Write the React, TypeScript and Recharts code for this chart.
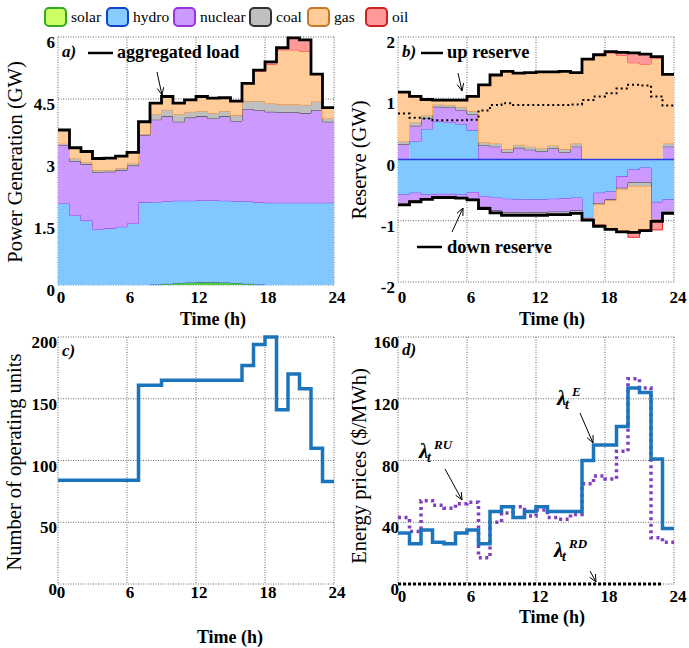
import React from 'react';
import { ComposedChart, Area, Line, XAxis, YAxis, CartesianGrid, ReferenceLine } from 'recharts';

const FONT = '"Liberation Serif", "Times New Roman", Times, serif';

type V = number | null;
const N = null;

// ---------- ticks ----------
const hourTicks = [0, 6, 12, 18, 24];
const genTicks = [0, 1.5, 3, 4.5, 6];
const reserveTicks = [-2, -1, 0, 1, 2];
const unitTicks = [0, 50, 100, 150, 200];
const priceTicks = [0, 40, 80, 120, 160];

// ---------- (a) power generation (GW), hours 0..23 ----------
const solarGen: V[] = [N, N, N, N, N, N, N, N, 0.01, 0.03, 0.05, 0.06, 0.07, 0.07, 0.06, 0.05, 0.03, 0.01, 0, N, N, N, N, N];
const hydroGen: V[] = [1.98, 1.69, 1.56, 1.35, 1.37, 1.41, 1.49, 2.0, 2.0, 1.99, 1.99, 1.98, 1.98, 1.98, 1.98, 1.98, 1.99, 1.99, 1.99, 1.99, 1.99, 1.99, 1.99, 1.99];
const nuclearGen: V[] = [1.41, 1.31, 1.36, 1.38, 1.37, 1.37, 1.4, 1.63, 1.99, 2.06, 1.91, 2.01, 2.03, 1.98, 2.04, 1.94, 2.24, 2.23, 2.2, 2.19, 2.19, 2.17, 2.24, 1.96];
const coalGen: V[] = [0.03, 0.06, 0.05, 0.05, 0.04, 0.05, 0.05, 0.02, 0.13, 0.16, 0.18, 0.14, 0.13, 0.13, 0.13, 0.14, 0.19, 0.22, 0.21, 0.19, 0.19, 0.2, 0.21, 0.08];
const gasGen: V[] = [0.33, 0.26, 0.26, 0.28, 0.29, 0.29, 0.27, 0.3, 0.27, 0.32, 0.27, 0.29, 0.35, 0.36, 0.32, 0.34, 0.43, 0.72, 0.94, 1.32, 1.32, 1.3, 0.66, 0.26];
const oilGen: V[] = [N, N, N, N, N, N, N, N, N, N, N, N, N, N, N, N, N, 0.03, 0.06, 0.05, 0.29, 0.27, 0, N];
const aggregatedLoad: V[] = [3.75, 3.32, 3.23, 3.06, 3.07, 3.12, 3.21, 3.95, 4.4, 4.56, 4.4, 4.48, 4.56, 4.52, 4.53, 4.45, 4.88, 5.2, 5.4, 5.74, 5.98, 5.93, 5.1, 4.29];

// ---------- (b) reserve (GW) ----------
const hydroUp: V[] = [N, 0.3, 0.5, 0.62, 0.61, 0.58, 0.48, 0, N, N, N, N, N, N, N, N, N, N, N, N, N, N, N, N];
const nuclearUp: V[] = [0.25, 0.25, 0.17, 0.24, 0.24, 0.23, 0.26, 0.23, 0.21, 0.12, 0.19, 0.16, 0.13, 0.18, 0.12, 0.21, 0, N, N, N, N, N, N, 0.21];
const coalUp: V[] = [0.05, 0.06, 0.05, 0.04, 0.04, 0.05, 0.05, 0.05, 0.05, 0.05, 0.05, 0.05, 0.05, 0.05, 0.05, 0.05, 0, N, N, N, N, N, N, 0.05];
const gasUp: V[] = [0.8, 0.42, 0.26, 0.07, 0.08, 0.11, 0.24, 0.94, 1.12, 1.27, 1.17, 1.21, 1.25, 1.2, 1.27, 1.16, 1.64, 1.71, 1.74, 1.7, 1.58, 1.56, 1.65, 1.13];
const oilUp: V[] = [N, N, N, N, N, N, N, N, N, N, N, N, N, N, N, N, N, N, 0.02, 0.05, 0.16, 0.16, 0.03, 0];
const upReserve: V[] = [1.1, 1.03, 0.98, 0.97, 0.97, 0.97, 1.03, 1.22, 1.38, 1.44, 1.41, 1.42, 1.43, 1.43, 1.44, 1.42, 1.64, 1.71, 1.76, 1.75, 1.74, 1.72, 1.68, 1.39];
const dottedReserve: V[] = [0.75, 0.68, 0.67, 0.64, 0.64, 0.64, 0.65, 0.8, 0.89, 0.92, 0.89, 0.89, 0.89, 0.89, 0.89, 0.9, 0.97, 1.03, 1.08, 1.16, 1.22, 1.21, 1.03, 0.88];
const hydroDown: V[] = [-0.58, -0.55, -0.58, -0.57, -0.57, -0.58, -0.54, -0.61, -0.63, -0.65, -0.66, -0.66, -0.66, -0.65, -0.64, -0.63, -0.96, -0.55, -0.53, -0.28, -0.17, -0.14, -0.7, -0.66];
const nuclearDown: V[] = [-0.14, -0.12, -0.06, -0.04, -0.04, -0.04, -0.11, -0.17, -0.21, -0.22, -0.21, -0.21, -0.21, -0.21, -0.22, -0.21, -0.01, -0.17, -0.13, -0.19, -0.21, -0.24, -0.29, -0.19];
const coalDown: V[] = [-0.01, -0.01, -0.01, -0.01, -0.01, -0.01, -0.01, -0.02, -0.03, -0.04, -0.04, -0.04, -0.04, -0.04, -0.04, -0.03, 0, -0.02, -0.02, -0.02, -0.06, -0.06, 0, -0.03];
const gasDown: V[] = [N, N, N, N, N, N, N, N, N, N, N, N, N, N, N, N, -0.02, -0.33, -0.45, -0.68, -0.74, -0.71, -0.02, 0];
const oilDown: V[] = [N, N, N, N, N, N, N, N, N, N, N, N, N, N, N, N, N, N, N, -0.02, -0.09, -0.01, -0.14, 0];
const downReserve: V[] = [-0.74, -0.69, -0.65, -0.62, -0.62, -0.63, -0.66, -0.8, -0.87, -0.91, -0.91, -0.91, -0.91, -0.9, -0.9, -0.88, -0.99, -1.09, -1.14, -1.18, -1.19, -1.16, -1.01, -0.88];

// ---------- (c) operating units ----------
const operatingUnits: V[] = [84, 84, 84, 84, 84, 84, 84, 161, 161, 165, 165, 165, 165, 165, 165, 165, 177, 194, 200, 141, 170, 158, 110, 83];

// ---------- (d) prices ($/MWh) ----------
const priceE: V[] = [33, 26, 35, 27, 26, 33, 35, 26, 47, 50, 43, 47, 50, 47, 47, 47, 80, 90, 90, 102, 127, 124, 81, 36];
const priceRU: V[] = [43, 34, 54, 51, 49, 52, 53, 17, 40, 46, 50, 44, 48, 43, 42, 45, 65, 70, 68, 86, 133, 127, 30, 27];
const priceRD: V[] = [0, 0, 0, 0, 0, 0, 0, 0, 0, 0, 0, 0, 0, 0, 0, 0, 0, 0, 0, 0, 0, 0, 0, 0];

// ---------- legend ----------
const legendNames = ['solar', 'hydro', 'nuclear', 'coal', 'gas', 'oil'];
const legendFill = ['#ccff66', '#88ccff', '#cc99ff', '#c0c0c0', '#ffcc99', '#ff9999'];
const legendStroke = ['#33aa22', '#1144cc', '#9933dd', '#333333', '#c87828', '#cc2222'];
const legendSwatchX = [45, 107, 174, 250, 308, 366];

const FILL = { solar: '#55cc33', hydro: '#80c8ff', nuclear: '#cc99ff', coal: '#bfbfbf', gas: '#ffcc99', oil: '#ff9999' };
const EDGE = { solar: '#2a55dd', hydro: '#8a3be8', nuclear: '#333333', coal: '#f08a24', gas: '#ee2a2a', oil: '#ee2a2a' };

function buildRows(series: Record<string, V[]>) {
  const rows: Record<string, V>[] = [];
  for (let t = 0; t <= 24; t++) {
    const row: Record<string, V> = { t };
    for (const key of Object.keys(series)) {
      const arr = series[key];
      if (t < 24) row[key] = arr[t];
      else row[key] = arr[23] === 0 ? null : arr[23];
    }
    rows.push(row);
  }
  return rows;
}

const genRows = buildRows({ solar: solarGen, hydro: hydroGen, nuclear: nuclearGen, coal: coalGen, gas: gasGen, oil: oilGen, load: aggregatedLoad });
const resRows = buildRows({
  hydroUp, nuclearUp, coalUp, gasUp, oilUp, upReserve, dottedReserve,
  hydroDown, nuclearDown, coalDown, gasDown, oilDown, downReserve,
});
const unitRows = buildRows({ units: operatingUnits });
const priceRows = buildRows({ e: priceE, ru: priceRU, rd: priceRD });

const W = 689;
const H = 648;

const xTick = (dx: number, dy: number) => (p: any) => (
  <text x={p.x + dx} y={p.y + dy} textAnchor="middle" fontFamily={FONT} fontWeight="bold" fontSize={17} fill="#000">
    {String(p.payload.value)}
  </text>
);
const yTick = (dx: number) => (p: any) => (
  <text x={p.x + dx} y={p.y + 11} textAnchor="end" fontFamily={FONT} fontWeight="bold" fontSize={17} fill="#000">
    {String(p.payload.value)}
  </text>
);

function Panel(props: {
  data: any[];
  plot: { l: number; t: number; r: number; b: number };
  yDomain: [number, number];
  yTicks: number[];
  xdx: number;
  xdy: number;
  ydx: number;
  children: React.ReactNode;
}) {
  const { data, plot, yDomain, yTicks, xdx, xdy, ydx, children } = props;
  const YW = 40;
  const XH = 30;
  return (
    <div style={{ position: 'absolute', left: 0, top: 0 }}>
      <ComposedChart
        width={W}
        height={H}
        data={data}
        margin={{ top: plot.t, left: plot.l - YW, right: W - plot.r, bottom: H - plot.b - XH }}
      >
        <CartesianGrid stroke="#666" strokeDasharray="1 1.5" />
        <XAxis
          type="number"
          dataKey="t"
          domain={[0, 24]}
          ticks={hourTicks}
          interval={0}
          axisLine={false}
          tickLine={false}
          tickSize={0}
          tickMargin={0}
          height={XH}
          tick={xTick(xdx, xdy)}
        />
        <YAxis
          type="number"
          domain={yDomain}
          ticks={yTicks}
          interval={0}
          axisLine={false}
          tickLine={false}
          tickSize={0}
          tickMargin={0}
          width={YW}
          tick={yTick(ydx)}
        />
        {children}
      </ComposedChart>
    </div>
  );
}

function Arrow({ x1, y1, x2, y2 }: { x1: number; y1: number; x2: number; y2: number }) {
  const a = Math.atan2(y2 - y1, x2 - x1);
  const L = 8;
  const s = 0.42;
  const p1 = `${x2 - L * Math.cos(a - s)},${y2 - L * Math.sin(a - s)}`;
  const p2 = `${x2 - L * Math.cos(a + s)},${y2 - L * Math.sin(a + s)}`;
  return (
    <g stroke="#000" strokeWidth={1} fill="none">
      <line x1={x1} y1={y1} x2={x2} y2={y2} />
      <polyline points={`${p1} ${x2},${y2} ${p2}`} />
    </g>
  );
}

function Lambda({ x, y, sup }: { x: number; y: number; sup: string }) {
  return (
    <g fontFamily={FONT} fontWeight="bold" fontStyle="italic" fill="#000">
      <text x={x} y={y} fontSize={21}>λ</text>
      <text x={x + 8} y={y + 4} fontSize={14}>t</text>
      <text x={x + 15} y={y - 9} fontSize={13}>{sup}</text>
    </g>
  );
}

function area(key: string, stackId: string, kind: keyof typeof FILL) {
  return (
    <Area
      key={key}
      type="stepAfter"
      dataKey={key}
      stackId={stackId}
      fill={FILL[kind]}
      fillOpacity={1}
      stroke={EDGE[kind]}
      strokeWidth={1}
      isAnimationActive={false}
      dot={false}
      activeDot={false}
    />
  );
}

export default function App() {
  return (
    <div style={{ position: 'absolute', left: 0, top: 0, width: W, height: H, background: '#fff', overflow: 'hidden' }}>
      {/* (a) */}
      <Panel data={genRows} plot={{ l: 58, t: 37, r: 334, b: 285 }} yDomain={[0, 6]} yTicks={genTicks} xdx={3} xdy={18} ydx={-3}>
        {area('solar', 'g', 'solar')}
        {area('hydro', 'g', 'hydro')}
        {area('nuclear', 'g', 'nuclear')}
        {area('coal', 'g', 'coal')}
        {area('gas', 'g', 'gas')}
        {area('oil', 'g', 'oil')}
        <Line type="stepAfter" dataKey="load" stroke="#000" strokeWidth={2.8} dot={false} activeDot={false} isAnimationActive={false} />
      </Panel>

      {/* (b) */}
      <Panel data={resRows} plot={{ l: 398, t: 37, r: 674, b: 282 }} yDomain={[-2, 2]} yTicks={reserveTicks} xdx={4} xdy={21} ydx={-3}>
        {area('hydroUp', 'up', 'hydro')}
        {area('nuclearUp', 'up', 'nuclear')}
        {area('coalUp', 'up', 'coal')}
        {area('gasUp', 'up', 'gas')}
        {area('oilUp', 'up', 'oil')}
        {area('hydroDown', 'dn', 'hydro')}
        {area('nuclearDown', 'dn', 'nuclear')}
        {area('coalDown', 'dn', 'coal')}
        {area('gasDown', 'dn', 'gas')}
        {area('oilDown', 'dn', 'oil')}
        <ReferenceLine y={0} stroke="#2a3ee0" strokeWidth={1.5} />
        <Line type="stepAfter" dataKey="dottedReserve" stroke="#000" strokeWidth={2} strokeDasharray="2 3" dot={false} activeDot={false} isAnimationActive={false} />
        <Line type="stepAfter" dataKey="upReserve" stroke="#000" strokeWidth={2.8} dot={false} activeDot={false} isAnimationActive={false} />
        <Line type="stepAfter" dataKey="downReserve" stroke="#000" strokeWidth={2.8} dot={false} activeDot={false} isAnimationActive={false} />
      </Panel>

      {/* (c) */}
      <Panel data={unitRows} plot={{ l: 58, t: 337, r: 334, b: 584 }} yDomain={[0, 200]} yTicks={unitTicks} xdx={3} xdy={14} ydx={-1}>
        <Line type="stepAfter" dataKey="units" stroke="#1b75bc" strokeWidth={3.5} dot={false} activeDot={false} isAnimationActive={false} />
      </Panel>

      {/* (d) */}
      <Panel data={priceRows} plot={{ l: 398, t: 337, r: 674, b: 584 }} yDomain={[0, 160]} yTicks={priceTicks} xdx={4} xdy={18} ydx={1}>
        <Line type="stepAfter" dataKey="ru" stroke="#7f3fbf" strokeWidth={3.5} strokeDasharray="3 3.5" dot={false} activeDot={false} isAnimationActive={false} />
        <Line type="stepAfter" dataKey="e" stroke="#1b75bc" strokeWidth={3.5} dot={false} activeDot={false} isAnimationActive={false} />
        <Line type="stepAfter" dataKey="rd" stroke="#000" strokeWidth={3} strokeDasharray="3 2" dot={false} activeDot={false} isAnimationActive={false} />
      </Panel>

      {/* annotations overlay */}
      <svg width={W} height={H} style={{ position: 'absolute', left: 0, top: 0, pointerEvents: 'none' }}>
        {/* legend */}
        {legendNames.map((name, i) => (
          <g key={name}>
            <rect x={legendSwatchX[i]} y={8} width={21} height={18} rx={4} ry={4} fill={legendFill[i]} stroke={legendStroke[i]} strokeWidth={2} />
            <text x={legendSwatchX[i] + 26} y={22} fontFamily={FONT} fontSize={15.5} fill="#000">{name}</text>
          </g>
        ))}

        {/* panel labels */}
        <g fontFamily={FONT} fontWeight="bold" fontStyle="italic" fontSize={17} fill="#000">
          <text x={62} y={57}>a)</text>
          <text x={402} y={57}>b)</text>
          <text x={62} y={356}>c)</text>
          <text x={402} y={355}>d)</text>
        </g>

        {/* in-plot legends */}
        <line x1={88} y1={53} x2={113} y2={53} stroke="#000" strokeWidth={2.5} />
        <text x={117} y={58} fontFamily={FONT} fontWeight="bold" fontSize={18} fill="#000">aggregated load</text>
        <Arrow x1={157} y1={72} x2={162} y2={95} />

        <line x1={421} y1={53} x2={443} y2={53} stroke="#000" strokeWidth={2.5} />
        <text x={447} y={58} fontFamily={FONT} fontWeight="bold" fontSize={18.5} fill="#000">up reserve</text>
        <Arrow x1={458} y1={73} x2={462} y2={91} />

        <line x1={417} y1={247} x2={442} y2={247} stroke="#000" strokeWidth={2.5} />
        <text x={447} y={253} fontFamily={FONT} fontWeight="bold" fontSize={18.5} fill="#000">down reserve</text>
        <Arrow x1={452} y1={232} x2={463} y2={208} />

        {/* price annotations */}
        <Lambda x={557} y={405} sup="E" />
        <Arrow x1={580} y1={413} x2={593} y2={443} />
        <Lambda x={419} y={458} sup="RU" />
        <Arrow x1={445} y1={469} x2={462} y2={500} />
        <Lambda x={554} y={557} sup="RD" />
        <Arrow x1={590} y1={571} x2={596} y2={582} />

        {/* axis titles */}
        <g fontFamily={FONT} fontWeight="bold" fontSize={18} fill="#000" textAnchor="middle">
          <text x={213} y={325}>Time (h)</text>
          <text x={552} y={325}>Time (h)</text>
          <text x={230} y={643}>Time (h)</text>
          <text x={552} y={623}>Time (h)</text>
        </g>
        <g fontFamily={FONT} fontSize={20.5} fill="#000" textAnchor="middle">
          <text transform="translate(22,162) rotate(-90)">Power Generation (GW)</text>
          <text transform="translate(366,160) rotate(-90)">Reserve (GW)</text>
          <text transform="translate(21,462) rotate(-90)">Number of operating units</text>
          <text transform="translate(366,466) rotate(-90)">Energy prices ($/MWh)</text>
        </g>
      </svg>
    </div>
  );
}
